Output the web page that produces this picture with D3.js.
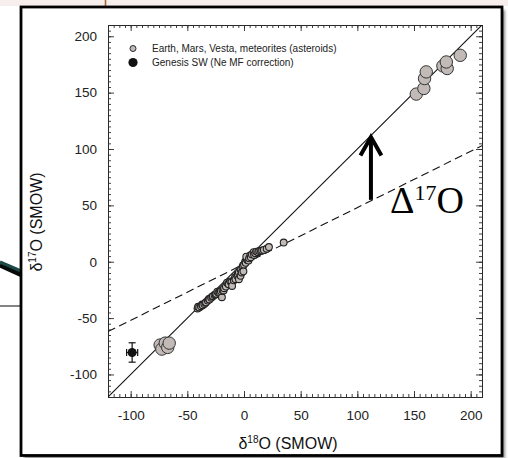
<!DOCTYPE html>
<html>
<head>
<meta charset="utf-8">
<script src="https://cdn.jsdelivr.net/npm/d3@7/dist/d3.min.js"></script>
<style>
  html, body { margin: 0; padding: 0; background: #fff; }
  svg { display: block; }
</style>
</head>
<body>
<svg id="chart" width="508" height="458"></svg>
<script>
// Oxygen three-isotope plot: d18O vs d17O (per mil, SMOW)

// Earth, Mars, Vesta and meteorite analyses (small symbols)
const asteroidX = [-41, -40.5, -39.5, -38, -37, -36.5, -35, -34, -33.5, -32, -31, -30.5, -29, -28, -27.5, -26, -25,
  -24.5, -23.5, -22.5, -21.5, -19.5, -20.5, -19, -18, -17.5, -16, -15, -14, -13.5, -12, -11, -10.5, -9, -8, -7.5,
  -6, -5.5, -4.5, -4.5, -3, -3, -2, -1.5, -1, -0.5, 0, 1, 1.5, 2.5, 3, 2, 4, 4.5, 5.5, 6, 7, 8.5, 9, 10, 11,
  12.5, 13.5, 15, 16, 17.5, 20, 22, 35];
const asteroidY = [-41.5, -40, -40.5, -39.5, -38, -38.5, -37.5, -36.5, -36, -34.5, -33, -33.5, -32, -31, -30.5,
  -29.5, -29, -28.5, -26.5, -27.5, -27, -31.5, -26, -25, -25.5, -23.5, -22, -18.5, -19.5, -20, -17.5, -18, -21.5,
  -16.5, -14, -15.5, -12.5, -11, -15.5, -9.5, -12.5, -7, -9.5, -5, -3.5, -8.5, -2.5, 0, -1, 2.5, 1.5, 4.5, 1, 3,
  5.5, 4, 6.5, 8.5, 6, 7.5, 9, 8.5, 9.5, 9.5, 10, 10.5, 11.5, 13, 17];

// Highly fractionated analyses (large symbols)
const fractX = [152, 158.7, 159.3, 160.8, 175.5, 179.3, 178.5, 190.8, -74, -72.5, -69.5, -67.3, -66];
const fractY = [148.7, 153.7, 162.5, 168.4, 173.7, 171.4, 177.2, 183.1, -73.9, -77.5, -72.2, -76, -72.2];

// Genesis solar wind (no Ne mass-fractionation correction), with 1-sigma errors
const genesisX = [-98.7];
const genesisY = [-80.5];
const genesisErrX = [4.9];
const genesisErrY = [8.6];

// Reference lines: slope-1 line and terrestrial fractionation line
const slopeOneLine = { x: [-120, 210], y: [-120, 210] };
const tflLine = { x: [-120, 210], y: [-62, 103] };

// Delta-17O arrow position (d18O value)
const arrowAt = 112;

const xTicks = [-100, -50, 0, 50, 100, 150, 200];
const yTicks = [-100, -50, 0, 50, 100, 150, 200];
const legendLabels = ["Earth, Mars, Vesta, meteorites (asteroids)", "Genesis SW (Ne MF correction)"];

const svg = d3.select("#chart");
const sans = "'Liberation Sans', Arial, sans-serif";
const serif = "'Liberation Serif', 'Times New Roman', serif";

// ---- slide surroundings ----
svg.append("rect").attr("x", 0).attr("y", 0).attr("width", 508).attr("height", 6).attr("fill", "#f7efed");
svg.append("line").attr("x1", 105.5).attr("x2", 105.5).attr("y1", 0).attr("y2", 7)
  .attr("stroke", "#a8683a").attr("stroke-width", 1.6);
svg.append("line").attr("x1", 0).attr("y1", 264.5).attr("x2", 21).attr("y2", 274)
  .attr("stroke", "#050a0a").attr("stroke-width", 6);
svg.append("line").attr("x1", 0).attr("y1", 262).attr("x2", 21).attr("y2", 271)
  .attr("stroke", "#1d4a45").attr("stroke-width", 3);
svg.append("line").attr("x1", 0).attr("y1", 306).attr("x2", 21).attr("y2", 306)
  .attr("stroke", "#5a5a5a").attr("stroke-width", 1.5);

const defs = svg.append("defs");
defs.append("filter").attr("id", "shadow").attr("x", "-5%").attr("y", "-5%").attr("width", "110%").attr("height", "110%")
  .append("feGaussianBlur").attr("stdDeviation", 1.6);
svg.append("rect").attr("x", 24).attr("y", 10).attr("width", 481).attr("height", 449)
  .attr("fill", "#8a8a8a").attr("filter", "url(#shadow)");
svg.append("rect").attr("x", 21).attr("y", 7).attr("width", 481).attr("height", 448.5)
  .attr("fill", "#fff").attr("stroke", "#000").attr("stroke-width", 2.8);

// ---- plot ----
const L = 108, R = 482, T = 25, B = 397;
const x = d3.scaleLinear().domain([-120, 210]).range([L, R]);
const y = d3.scaleLinear().domain([-120, 210]).range([B, T]);

defs.append("clipPath").attr("id", "plotClip").append("rect")
  .attr("x", L).attr("y", T).attr("width", R - L).attr("height", B - T);

const minorX = d3.range(-120, 211, 5);
const minorY = d3.range(-120, 211, 5);
const axisColor = "#2a2a2a";

function styleAxis(g) {
  g.selectAll("path.domain").attr("stroke", axisColor).attr("stroke-width", 1);
  g.selectAll(".tick line").attr("stroke", axisColor).attr("stroke-width", 0.9);
  g.selectAll(".tick text").attr("fill", "#222").style("font-family", sans).style("font-size", "13.5px");
}

// minor ticks on all four sides
svg.append("g").attr("transform", `translate(0,${B})`)
  .call(d3.axisBottom(x).tickValues(minorX).tickSize(-3).tickSizeOuter(0).tickFormat(""))
  .call(styleAxis);
svg.append("g").attr("transform", `translate(0,${T})`)
  .call(d3.axisTop(x).tickValues(minorX).tickSize(-3).tickSizeOuter(0).tickFormat(""))
  .call(styleAxis);
svg.append("g").attr("transform", `translate(${L},0)`)
  .call(d3.axisLeft(y).tickValues(minorY).tickSize(-3).tickSizeOuter(0).tickFormat(""))
  .call(styleAxis);
svg.append("g").attr("transform", `translate(${R},0)`)
  .call(d3.axisRight(y).tickValues(minorY).tickSize(-3).tickSizeOuter(0).tickFormat(""))
  .call(styleAxis);

// major ticks with labels
svg.append("g").attr("transform", `translate(0,${B})`)
  .call(d3.axisBottom(x).tickValues(xTicks).tickSize(-6).tickSizeOuter(0).tickPadding(13).tickFormat(d => String(d)))
  .call(styleAxis);
svg.append("g").attr("transform", `translate(${L},0)`)
  .call(d3.axisLeft(y).tickValues(yTicks).tickSize(-6).tickSizeOuter(0).tickPadding(11).tickFormat(d => String(d)))
  .call(styleAxis);
svg.append("g").attr("transform", `translate(0,${T})`)
  .call(d3.axisTop(x).tickValues(xTicks).tickSize(-6).tickSizeOuter(0).tickFormat(""))
  .call(styleAxis);
svg.append("g").attr("transform", `translate(${R},0)`)
  .call(d3.axisRight(y).tickValues(yTicks).tickSize(-6).tickSizeOuter(0).tickFormat(""))
  .call(styleAxis);

// axis titles
const xTitle = svg.append("text").attr("x", 288).attr("y", 449).attr("text-anchor", "middle")
  .style("font-family", sans).style("font-size", "16px").attr("fill", "#111");
xTitle.append("tspan").text("δ");
xTitle.append("tspan").attr("dy", -6).style("font-size", "10px").text("18");
xTitle.append("tspan").attr("dy", 6).text("O (SMOW)");

const yTitle = svg.append("text").attr("transform", "translate(42,222) rotate(-90)").attr("text-anchor", "middle")
  .style("font-family", sans).style("font-size", "16px").attr("fill", "#111");
yTitle.append("tspan").text("δ");
yTitle.append("tspan").attr("dy", -6).style("font-size", "10px").text("17");
yTitle.append("tspan").attr("dy", 6).text("O (SMOW)");

// reference lines
const lineGen = d3.line().x(d => x(d[0])).y(d => y(d[1]));
const plotG = svg.append("g").attr("clip-path", "url(#plotClip)");
plotG.append("path").datum(d3.zip(slopeOneLine.x, slopeOneLine.y)).attr("d", lineGen)
  .attr("fill", "none").attr("stroke", "#111").attr("stroke-width", 1.1);
plotG.append("path").datum(d3.zip(tflLine.x, tflLine.y)).attr("d", lineGen)
  .attr("fill", "none").attr("stroke", "#111").attr("stroke-width", 1.1).attr("stroke-dasharray", "8,4.5");

// data
const fillGray = "#c2bab7";
plotG.selectAll("circle.small").data(d3.zip(asteroidX, asteroidY)).join("circle").attr("class", "small")
  .attr("cx", d => x(d[0])).attr("cy", d => y(d[1])).attr("r", 3.4)
  .attr("fill", fillGray).attr("stroke", "#222").attr("stroke-width", 1.1);
plotG.selectAll("circle.big").data(d3.zip(fractX, fractY)).join("circle").attr("class", "big")
  .attr("cx", d => x(d[0])).attr("cy", d => y(d[1])).attr("r", 6.2)
  .attr("fill", fillGray).attr("stroke", "#333").attr("stroke-width", 1);

// Genesis point with error bars
const gen = d3.zip(genesisX, genesisY, genesisErrX, genesisErrY);
const genG = plotG.selectAll("g.genesis").data(gen).join("g").attr("class", "genesis");
genG.append("line").attr("x1", d => x(d[0])).attr("x2", d => x(d[0]))
  .attr("y1", d => y(d[1] - d[3])).attr("y2", d => y(d[1] + d[3])).attr("stroke", "#111").attr("stroke-width", 1.2);
genG.append("line").attr("x1", d => x(d[0] - d[2])).attr("x2", d => x(d[0] + d[2]))
  .attr("y1", d => y(d[1])).attr("y2", d => y(d[1])).attr("stroke", "#111").attr("stroke-width", 1.2);
[1, -1].forEach(s => {
  genG.append("line").attr("x1", d => x(d[0]) - 3.5).attr("x2", d => x(d[0]) + 3.5)
    .attr("y1", d => y(d[1] + s * d[3])).attr("y2", d => y(d[1] + s * d[3])).attr("stroke", "#111").attr("stroke-width", 1.2);
  genG.append("line").attr("y1", d => y(d[1]) - 3.5).attr("y2", d => y(d[1]) + 3.5)
    .attr("x1", d => x(d[0] + s * d[2])).attr("x2", d => x(d[0] + s * d[2])).attr("stroke", "#111").attr("stroke-width", 1.2);
});
genG.append("circle").attr("cx", d => x(d[0])).attr("cy", d => y(d[1])).attr("r", 4.5).attr("fill", "#111");

// Delta-17O arrow from the fractionation line up to the slope-1 line
const tflAt = v => tflLine.y[0] + (v - tflLine.x[0]) * (tflLine.y[1] - tflLine.y[0]) / (tflLine.x[1] - tflLine.x[0]);
const ax = x(arrowAt), yBase = y(tflAt(arrowAt)) - 1, yTip = y(arrowAt);
svg.append("line").attr("x1", ax).attr("x2", ax).attr("y1", yBase).attr("y2", yTip + 2)
  .attr("stroke", "#000").attr("stroke-width", 4);
svg.append("path").attr("d", `M${ax - 10.5},${yTip + 20} L${ax},${yTip + 1.5} L${ax + 10.5},${yTip + 20}`)
  .attr("fill", "none").attr("stroke", "#000").attr("stroke-width", 4).attr("stroke-linejoin", "miter");

const dText = svg.append("text").attr("x", 390).attr("y", 213).style("font-family", serif)
  .style("font-size", "38px").attr("fill", "#000");
dText.append("tspan").text("Δ");
dText.append("tspan").attr("dy", -13).style("font-size", "22px").text("17");
dText.append("tspan").attr("dy", 13).text("O");

// legend
const legend = svg.append("g");
legend.append("circle").attr("cx", 133).attr("cy", 48.5).attr("r", 3)
  .attr("fill", fillGray).attr("stroke", "#2b2b2b").attr("stroke-width", 1);
legend.append("circle").attr("cx", 133).attr("cy", 62.5).attr("r", 4.6).attr("fill", "#111");
legend.selectAll("text").data(legendLabels).join("text")
  .attr("x", 152).attr("y", (d, i) => 48.5 + i * 14).attr("dy", "0.35em")
  .style("font-family", sans).style("font-size", "10px").attr("fill", "#222").text(d => d);
</script>
</body>
</html>
